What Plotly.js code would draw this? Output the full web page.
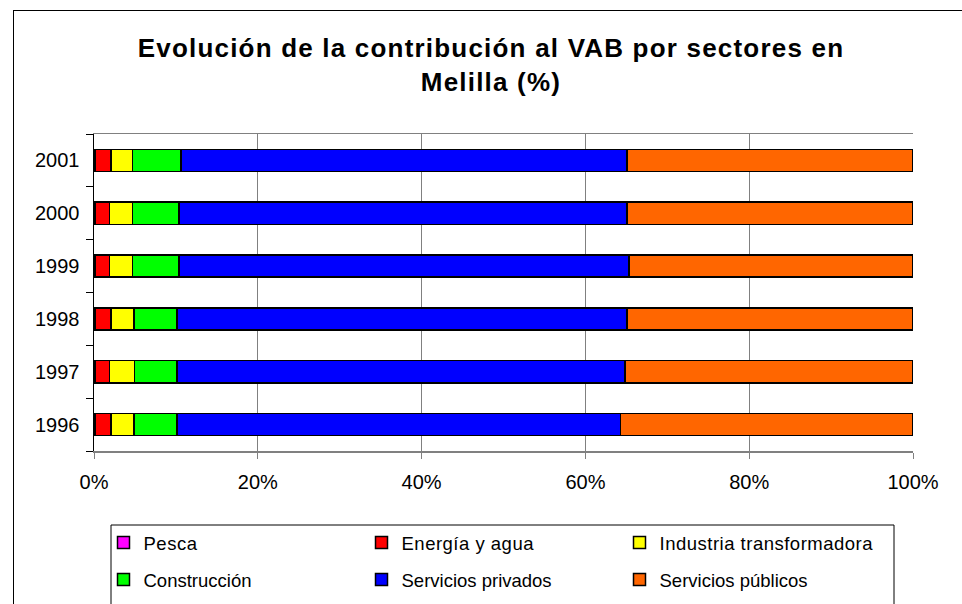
<!DOCTYPE html>
<html>
<head>
<meta charset="utf-8">
<script src="https://cdn.plot.ly/plotly-3.0.1.min.js"></script>
<style>
  html, body { margin: 0; padding: 0; background: #ffffff; }
  #wrap { position: relative; width: 962px; height: 604px; overflow: hidden; background: #ffffff; }
  #frame { position: absolute; left: 13px; top: 10px; width: 1000px; height: 700px; border-left: 1px solid #000; border-top: 1px solid #000; }
  #chart { position: absolute; left: 0; top: 0; width: 962px; height: 604px; }
  .gtitle { letter-spacing: 1.2px; }
  .legendtext { letter-spacing: 0.5px; }
</style>
</head>
<body>
<div id="wrap">
  <div id="frame"></div>
  <div id="chart"></div>
</div>
<script>
const years = ['1996', '1997', '1998', '1999', '2000', '2001'];
const pesca = [0.1, 0.1, 0.1, 0.1, 0.1, 0.1];
const energia = [2.0, 1.8, 2.0, 1.8, 1.8, 2.0];
const industria = [2.8, 3.05, 2.8, 2.8, 2.8, 2.6];
const construccion = [5.2, 5.2, 5.2, 5.7, 5.7, 5.9];
const privados = [54.1, 54.7, 54.9, 54.9, 54.7, 54.5];
const publicos = [35.7, 35.2, 34.9, 34.7, 34.9, 34.9];

const seriesNames = ['Pesca', 'Energía y agua', 'Industria transformadora', 'Construcción', 'Servicios privados', 'Servicios públicos'];
const seriesValues = [pesca, energia, industria, construccion, privados, publicos];
const seriesColors = ['#FF00FF', '#FF0000', '#FFFF00', '#00FF00', '#0000FF', '#FF6600'];

const traces = seriesNames.map((name, i) => ({
  type: 'bar',
  orientation: 'h',
  name: name,
  y: years,
  x: seriesValues[i],
  legend: i < 3 ? 'legend' : 'legend2',
  marker: { color: seriesColors[i], line: { color: '#000000', width: 1.5 } },
  hoverinfo: 'x+name'
}));

const legendFont = { family: 'Liberation Sans, Arial, sans-serif', size: 18.5, color: '#000000' };
const legendCommon = {
  orientation: 'h',
  x: 0.0116, xanchor: 'left',
  yanchor: 'middle',
  entrywidth: 213, entrywidthmode: 'pixels',
  traceorder: 'normal',
  bgcolor: 'rgba(0,0,0,0)',
  borderwidth: 0,
  font: legendFont,
  itemclick: false, itemdoubleclick: false
};

const layout = {
  width: 962,
  height: 604,
  paper_bgcolor: 'rgba(0,0,0,0)',
  plot_bgcolor: '#ffffff',
  margin: { l: 94, r: 49, t: 134, b: 153, pad: 0, autoexpand: false },
  barmode: 'stack',
  barnorm: 'percent',
  bargap: 0.58,
  font: { family: 'Liberation Sans, Arial, sans-serif', size: 20, color: '#000000' },
  title: {
    text: '<b>Evolución de la contribución al VAB por sectores en<br>Melilla (%)</b>',
    font: { family: 'Liberation Sans, Arial, sans-serif', size: 26, color: '#000000' },
    xref: 'container', x: 0.5104, xanchor: 'center',
    yref: 'container', y: 0.905, yanchor: 'top'
  },
  xaxis: {
    range: [0, 100],
    tickvals: [0, 20, 40, 60, 80, 100],
    ticktext: ['0%', '20%', '40%', '60%', '80%', '100%'],
    showgrid: true, gridcolor: '#808080', gridwidth: 1,
    showline: true, linecolor: '#808080', linewidth: 1.5, mirror: true,
    ticks: 'outside', ticklen: 6, tickcolor: '#808080',
    ticklabelstandoff: 6,
    zeroline: false,
    fixedrange: true
  },
  yaxis: {
    type: 'category',
    categoryorder: 'array', categoryarray: years,
    showline: true, linecolor: '#000000', linewidth: 1.5,
    ticks: 'outside', ticklen: 7, tickcolor: '#000000', tickson: 'boundaries',
    ticklabelstandoff: 9,
    showgrid: false, zeroline: false,
    fixedrange: true
  },
  showlegend: true,
  legend: Object.assign({}, legendCommon, { y: (451 - 543) / 317 }),
  legend2: Object.assign({}, legendCommon, { y: (451 - 580) / 317 }),
  shapes: [{
    type: 'rect', xref: 'paper', yref: 'paper',
    x0: (111 - 94) / 819, x1: (894 - 94) / 819,
    y0: (451 - 525) / 317, y1: (451 - 640) / 317,
    line: { color: '#000000', width: 1 }, fillcolor: 'rgba(0,0,0,0)', layer: 'above'
  }]
};

Plotly.newPlot('chart', traces, layout, { displayModeBar: false, staticPlot: true });
</script>
</body>
</html>
